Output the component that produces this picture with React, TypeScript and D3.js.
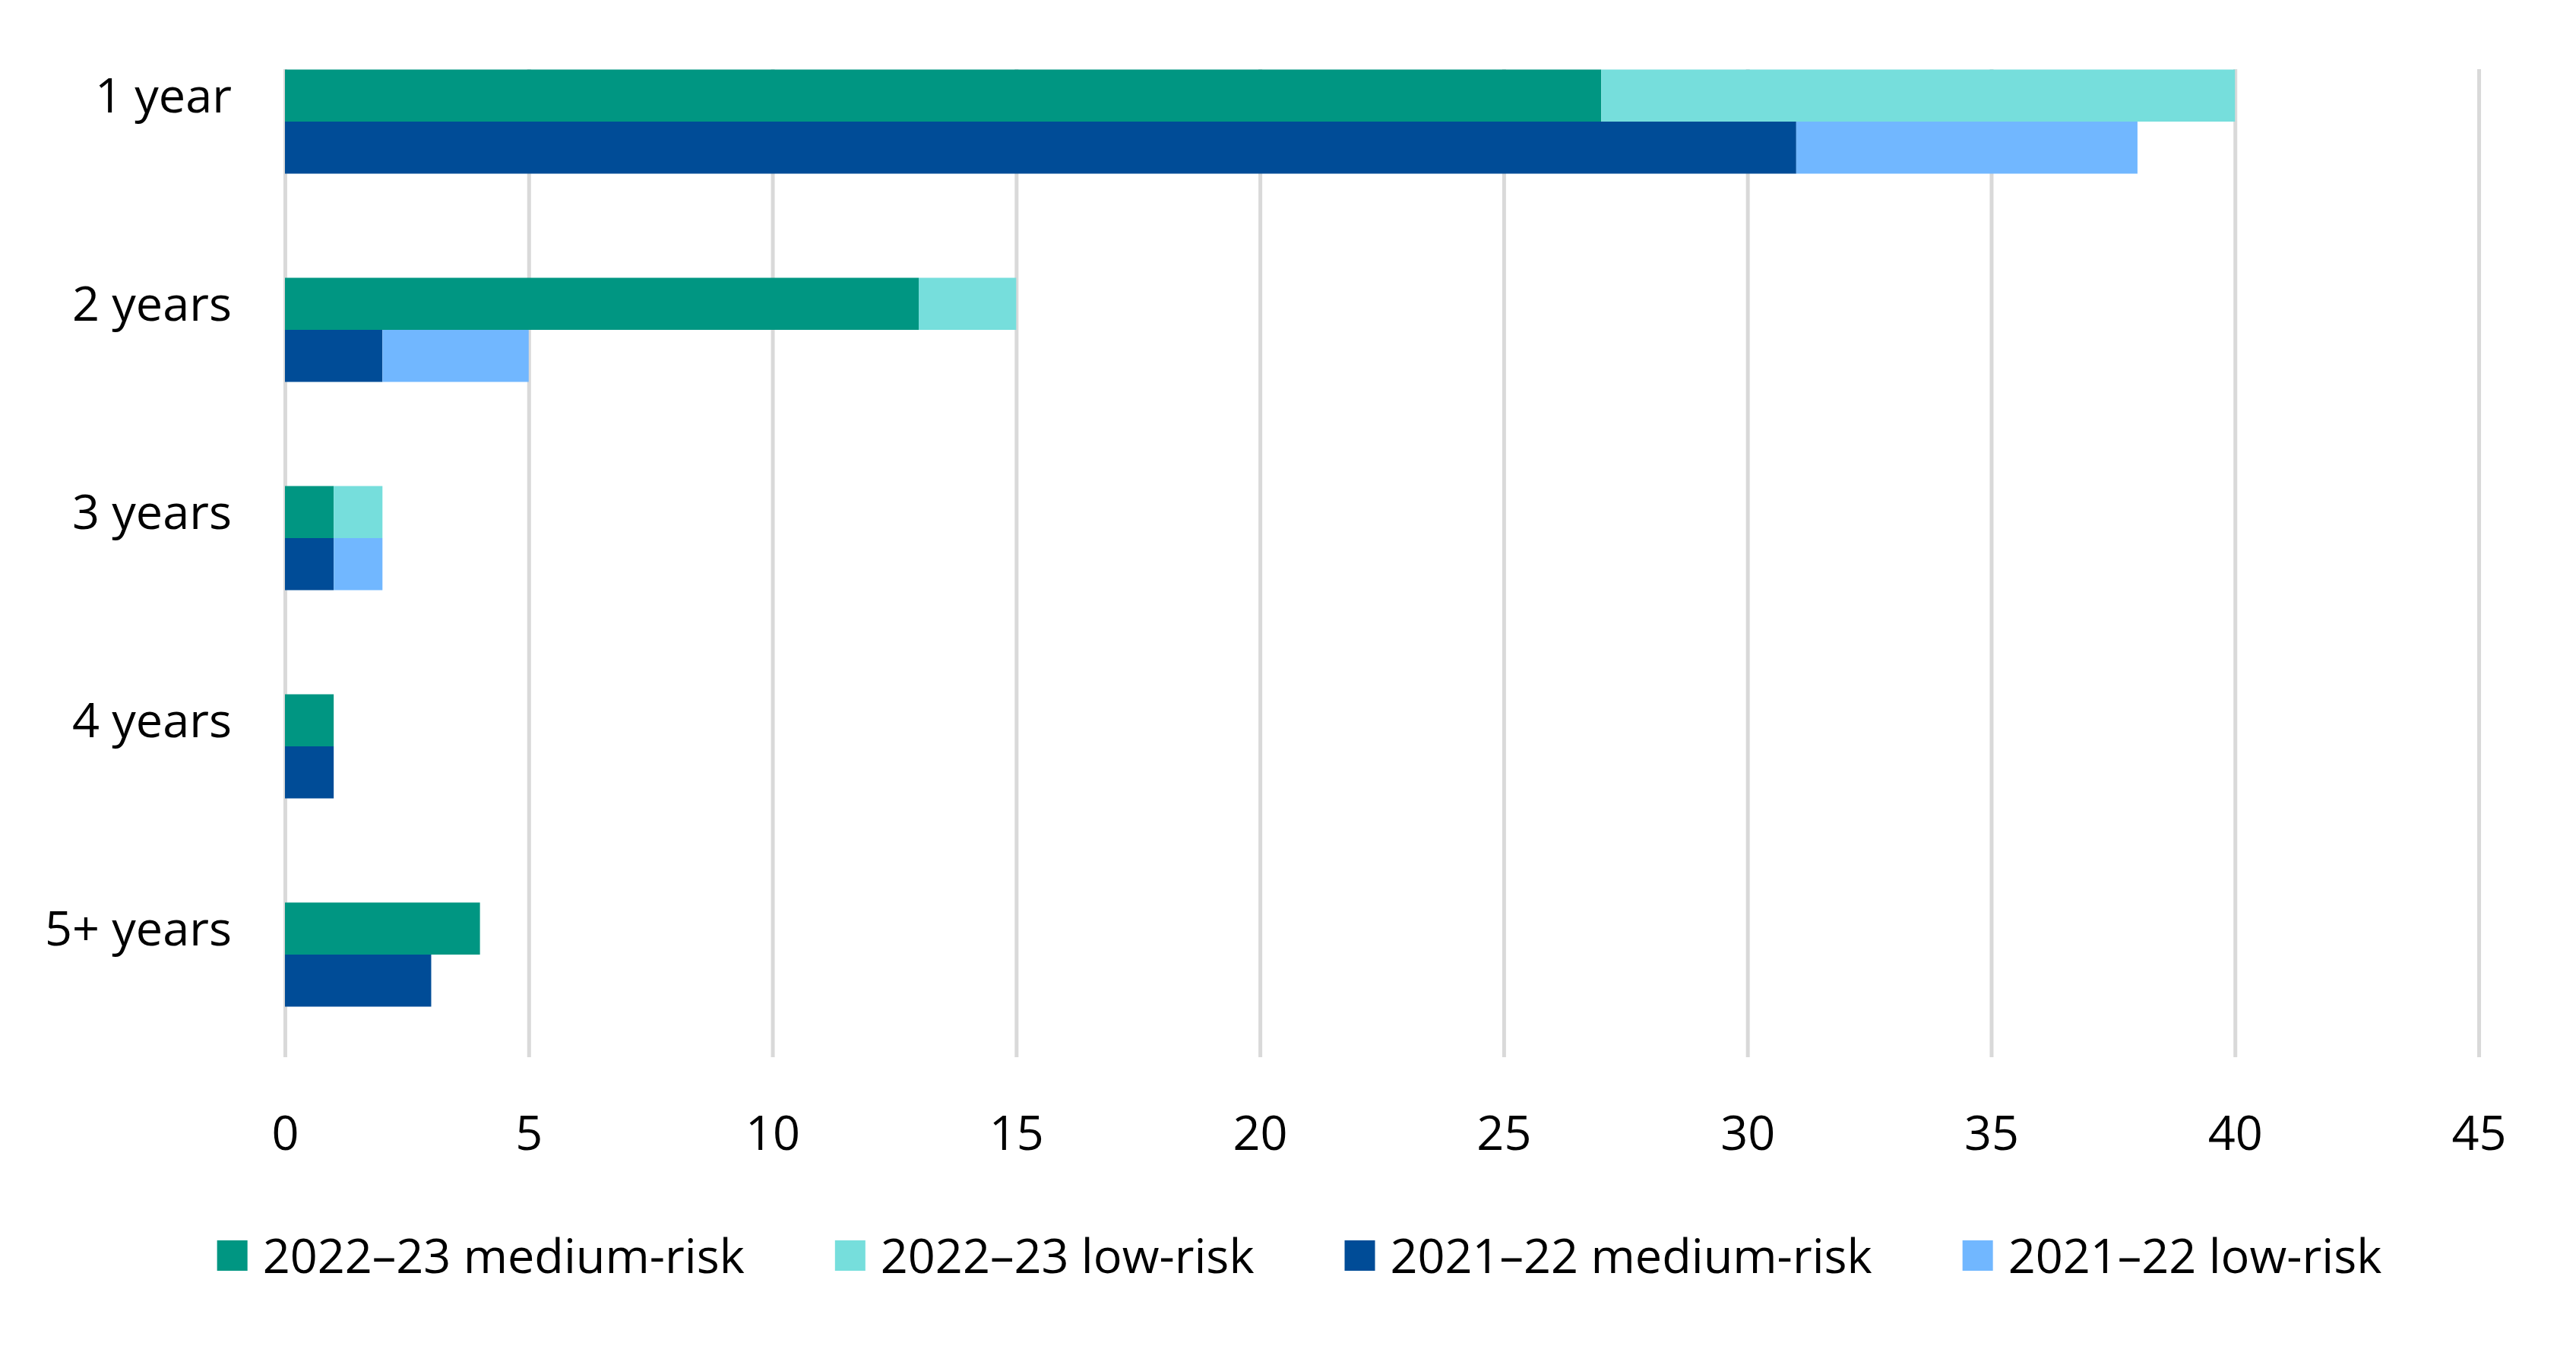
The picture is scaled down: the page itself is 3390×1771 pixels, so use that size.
import React, { useEffect, useRef } from "react";
import { axisBottom, axisLeft, scaleBand, scaleLinear, select, stack } from "d3";

const WIDTH = 3390;
const HEIGHT = 1771;
const PLOT_LEFT = 375;
const PLOT_RIGHT = 3262;
const GRID_TOP = 91;
const GRID_BOTTOM = 1391;
const BAND_TOP = 23;
const BAND_BOTTOM = 1393;
const FONT = "'Open Sans', 'Noto Sans', sans-serif";
const FONT_SIZE = 63;
const GRID_COLOR = "#d9d9d9";
const LEGEND_Y = 1632;
const LEGEND_CENTER = 1710;
const MARKER = 40;

const categories = ["1 year", "2 years", "3 years", "4 years", "5+ years"];
const periods = ["2022–23", "2021–22"];
const medium2223 = [27, 13, 1, 1, 4];
const low2223 = [13, 2, 1, 0, 0];
const medium2122 = [31, 2, 1, 1, 3];
const low2122 = [7, 3, 1, 0, 0];
const xTicks = [0, 5, 10, 15, 20, 25, 30, 35, 40, 45];

const seriesLabels = [
    "2022–23 medium-risk",
    "2022–23 low-risk",
    "2021–22 medium-risk",
    "2021–22 low-risk",
];
const seriesColors = ["#009682", "#76dedc", "#004c97", "#71b7ff"];

type Row = { category: string; medium: number; low: number };

const buildRows = (medium: number[], low: number[]): Row[] =>
    categories.map((category, i) => ({ category, medium: medium[i], low: low[i] }));

const groups = [
    { period: periods[0], rows: buildRows(medium2223, low2223), colors: [seriesColors[0], seriesColors[1]] },
    { period: periods[1], rows: buildRows(medium2122, low2122), colors: [seriesColors[2], seriesColors[3]] },
];

export default function App() {
    const svgRef = useRef<SVGSVGElement>(null);

    useEffect(() => {
        const svg = select(svgRef.current);
        svg.selectAll("*").remove();

        const x = scaleLinear().domain([0, 45]).range([PLOT_LEFT, PLOT_RIGHT]);
        const y = scaleBand<string>()
            .domain(categories)
            .range([BAND_TOP, BAND_BOTTOM])
            .paddingInner(0.5)
            .paddingOuter(0.25);
        const inner = scaleBand<string>().domain(periods).range([0, y.bandwidth()]);

        // gridlines + x labels
        const xAxis = svg
            .append("g")
            .attr("transform", `translate(0,${GRID_BOTTOM})`)
            .call(
                axisBottom(x)
                    .tickValues(xTicks)
                    .tickSize(-(GRID_BOTTOM - GRID_TOP))
                    .tickPadding(77),
            );
        xAxis.select(".domain").remove();
        xAxis.selectAll("line").attr("stroke", GRID_COLOR).attr("stroke-width", 5);
        xAxis
            .selectAll("text")
            .attr("fill", "#000")
            .attr("font-family", FONT)
            .attr("font-size", FONT_SIZE);

        // bars
        const stacker = stack<Row>().keys(["medium", "low"]);
        groups.forEach(group => {
            const layers = stacker(group.rows);
            const g = svg.append("g");
            layers.forEach((layer, li) => {
                g.selectAll(null)
                    .data(layer)
                    .enter()
                    .append("rect")
                    .attr("x", d => x(d[0]))
                    .attr("y", d => (y(d.data.category) ?? 0) + (inner(group.period) ?? 0))
                    .attr("width", d => x(d[1]) - x(d[0]))
                    .attr("height", inner.bandwidth())
                    .attr("fill", group.colors[li]);
            });
        });

        // category labels
        const yAxis = svg
            .append("g")
            .attr("transform", `translate(${PLOT_LEFT},0)`)
            .call(axisLeft(y).tickSize(0).tickPadding(70));
        yAxis.select(".domain").remove();
        yAxis
            .selectAll("text")
            .attr("fill", "#000")
            .attr("dy", "-0.19em")
            .attr("font-family", FONT)
            .attr("font-size", FONT_SIZE);

        // legend
        const legend = svg.append("g");
        const items = legend
            .selectAll("g")
            .data(seriesLabels)
            .enter()
            .append("g");
        items
            .append("rect")
            .attr("width", MARKER)
            .attr("height", MARKER)
            .attr("y", LEGEND_Y)
            .attr("fill", (_, i) => seriesColors[i]);
        items
            .append("text")
            .attr("x", MARKER + 20)
            .attr("y", LEGEND_Y + 43)
            .attr("fill", "#000")
            .attr("font-family", FONT)
            .attr("font-size", FONT_SIZE)
            .text(d => d);

        const widths: number[] = [];
        items.selectAll<SVGTextElement, string>("text").each(function () {
            widths.push(this.getComputedTextLength());
        });
        const itemWidths = widths.map(w => MARKER + 20 + w);
        const total = itemWidths.reduce((a, b) => a + b, 0) + 119 * (itemWidths.length - 1);
        let cursor = LEGEND_CENTER - total / 2;
        items.attr("transform", (_, i) => {
            const pos = cursor;
            cursor += itemWidths[i] + 119;
            return `translate(${pos},0)`;
        });
    }, []);

    return (
        <svg
            ref={svgRef}
            width={WIDTH}
            height={HEIGHT}
            style={{ position: "absolute", left: 0, top: 0, background: "#fff" }}
        />
    );
}
